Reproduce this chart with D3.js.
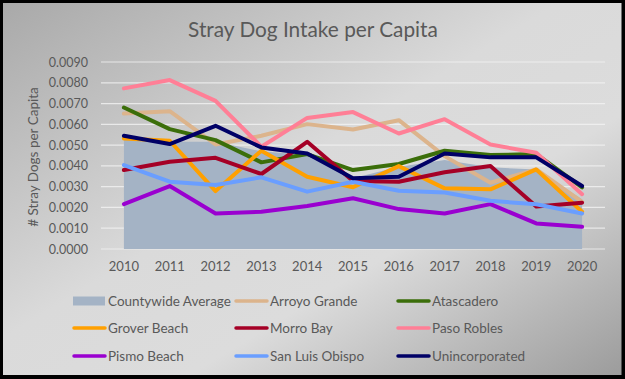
<!DOCTYPE html>
<html><head><meta charset="utf-8">
<script src="https://cdn.jsdelivr.net/npm/d3@7"></script>
<style>html,body{margin:0;padding:0;background:#fff;}svg{display:block;}</style>
</head><body>
<svg id="c" width="625" height="379"></svg>
<script>
const years = ["2010","2011","2012","2013","2014","2015","2016","2017","2018","2019","2020"];
const yTicks = [0,0.001,0.002,0.003,0.004,0.005,0.006,0.007,0.008,0.009];
const countywide   = [0.00530,0.00516,0.00516,0.00470,0.00452,0.00340,0.00396,0.00428,0.00393,0.00383,0.00240];
const arroyoGrande = [0.00652,0.00663,0.00503,0.00545,0.00601,0.00575,0.00620,0.00447,0.00319,0.00383,0.00227];
const atascadero   = [0.00681,0.00577,0.00524,0.00417,0.00457,0.00380,0.00409,0.00473,0.00452,0.00457,0.00297];
const groverBeach  = [0.00532,0.00521,0.00279,0.00473,0.00348,0.00297,0.00399,0.00292,0.00287,0.00383,0.00179];
const morroBay     = [0.00380,0.00420,0.00439,0.00361,0.00516,0.00327,0.00324,0.00369,0.00399,0.00204,0.00223];
const pasoRobles   = [0.00773,0.00813,0.00713,0.00492,0.00631,0.00659,0.00556,0.00625,0.00503,0.00463,0.00264];
const pismoBeach   = [0.00216,0.00303,0.00171,0.00179,0.00207,0.00244,0.00192,0.00171,0.00216,0.00123,0.00107];
const sanLuisObispo= [0.00404,0.00324,0.00308,0.00345,0.00276,0.00324,0.00280,0.00272,0.00232,0.00215,0.00171];
const unincorporated=[0.00545,0.00505,0.00593,0.00489,0.00460,0.00340,0.00348,0.00460,0.00441,0.00441,0.00303];

const lineSeries = [
  {name:"Arroyo Grande", values:arroyoGrande, color:"#dcb48c"},
  {name:"Atascadero", values:atascadero, color:"#3b6e0a"},
  {name:"Grover Beach", values:groverBeach, color:"#ffa000"},
  {name:"Morro Bay", values:morroBay, color:"#a50026"},
  {name:"Paso Robles", values:pasoRobles, color:"#ff7f96"},
  {name:"Pismo Beach", values:pismoBeach, color:"#9a00d0"},
  {name:"San Luis Obispo", values:sanLuisObispo, color:"#6a9eff"},
  {name:"Unincorporated", values:unincorporated, color:"#000066"}
];
const areaColor = "#a4b3c5";
const textColor = "#595959";
const font = "Lato, 'Open Sans', sans-serif";

const svg = d3.select("#c");
const W = 625, H = 379;
const defs = svg.append("defs");
const g = defs.append("linearGradient").attr("id","bg").attr("x1","0").attr("y1","0").attr("x2","1").attr("y2","1");
g.append("stop").attr("offset","0%").attr("stop-color","#a9a9a9");
g.append("stop").attr("offset","45%").attr("stop-color","#dadada");
g.append("stop").attr("offset","65%").attr("stop-color","#dcdcdc");
g.append("stop").attr("offset","100%").attr("stop-color","#9c9c9c");

svg.append("rect").attr("x",0).attr("y",0).attr("width",W).attr("height",H).attr("fill","#000");
svg.append("rect").attr("x",3).attr("y",3).attr("width",W-6.5).attr("height",H-7).attr("fill","url(#bg)");

const x = d3.scaleBand().domain(years).range([101,605]);
const xc = d => x(d) + x.bandwidth()/2;
const y = d3.scaleLinear().domain([0,0.009]).range([249,62]);

// gridlines
svg.append("g").selectAll("line").data(yTicks).join("line")
  .attr("x1",101).attr("x2",605)
  .attr("y1",d=>y(d)).attr("y2",d=>y(d))
  .attr("stroke","#f2f2f2").attr("stroke-opacity",0.8).attr("stroke-width",1.2);

// area
const area = d3.area().x((d,i)=>xc(years[i])).y0(y(0)).y1(d=>y(d));
svg.append("path").datum(countywide).attr("d",area).attr("fill",areaColor);

// lines
const line = d3.line().x((d,i)=>xc(years[i])).y(d=>y(d));
lineSeries.forEach(s=>{
  svg.append("path").datum(s.values).attr("d",line).attr("fill","none")
    .attr("stroke",s.color).attr("stroke-width",4).attr("stroke-linejoin","round").attr("stroke-linecap","round");
});

// y axis labels
const yAxis = d3.axisLeft(y).tickValues(yTicks).tickFormat(d3.format(".4f")).tickSize(0).tickPadding(0);
const ya = svg.append("g").attr("transform","translate(88,0)").call(yAxis);
ya.select(".domain").remove();
ya.selectAll("text").attr("fill",textColor).style("font-family",font).style("font-size","12.5px");

// x axis labels
const xAxis = d3.axisBottom(x).tickSize(0).tickPadding(0);
const xa = svg.append("g").attr("transform","translate(0,262)").call(xAxis);
xa.select(".domain").remove();
xa.selectAll("text").attr("fill",textColor).style("font-family",font).style("font-size","13px");

// y title
svg.append("text").attr("transform","translate(38,157) rotate(-90)").attr("text-anchor","middle")
  .attr("fill",textColor).style("font-family",font).style("font-size","13.5px").text("# Stray Dogs per Capita");

// title
svg.append("text").attr("x",313).attr("y",37).attr("text-anchor","middle")
  .attr("fill",textColor).style("font-family",font).style("font-size","20.8px").text("Stray Dog Intake per Capita");

// legend
const legendItems = [{name:"Countywide Average", color:areaColor, area:true}].concat(lineSeries);
const colX = [73,235,397];
const rowY = [301,328,356];
legendItems.forEach((d,i)=>{
  const cx = colX[i%3], cy = rowY[Math.floor(i/3)];
  if(d.area){
    svg.append("rect").attr("x",cx).attr("y",cy-4.5).attr("width",32).attr("height",9).attr("fill",d.color);
  } else {
    svg.append("line").attr("x1",cx+1).attr("x2",cx+32).attr("y1",cy).attr("y2",cy)
      .attr("stroke",d.color).attr("stroke-width",3.5).attr("stroke-linecap","round");
  }
  svg.append("text").attr("x",cx+35).attr("y",cy).attr("dy","0.35em")
    .attr("fill",textColor).style("font-family",font).style("font-size","13.5px").text(d.name);
});
</script>
</body></html>
